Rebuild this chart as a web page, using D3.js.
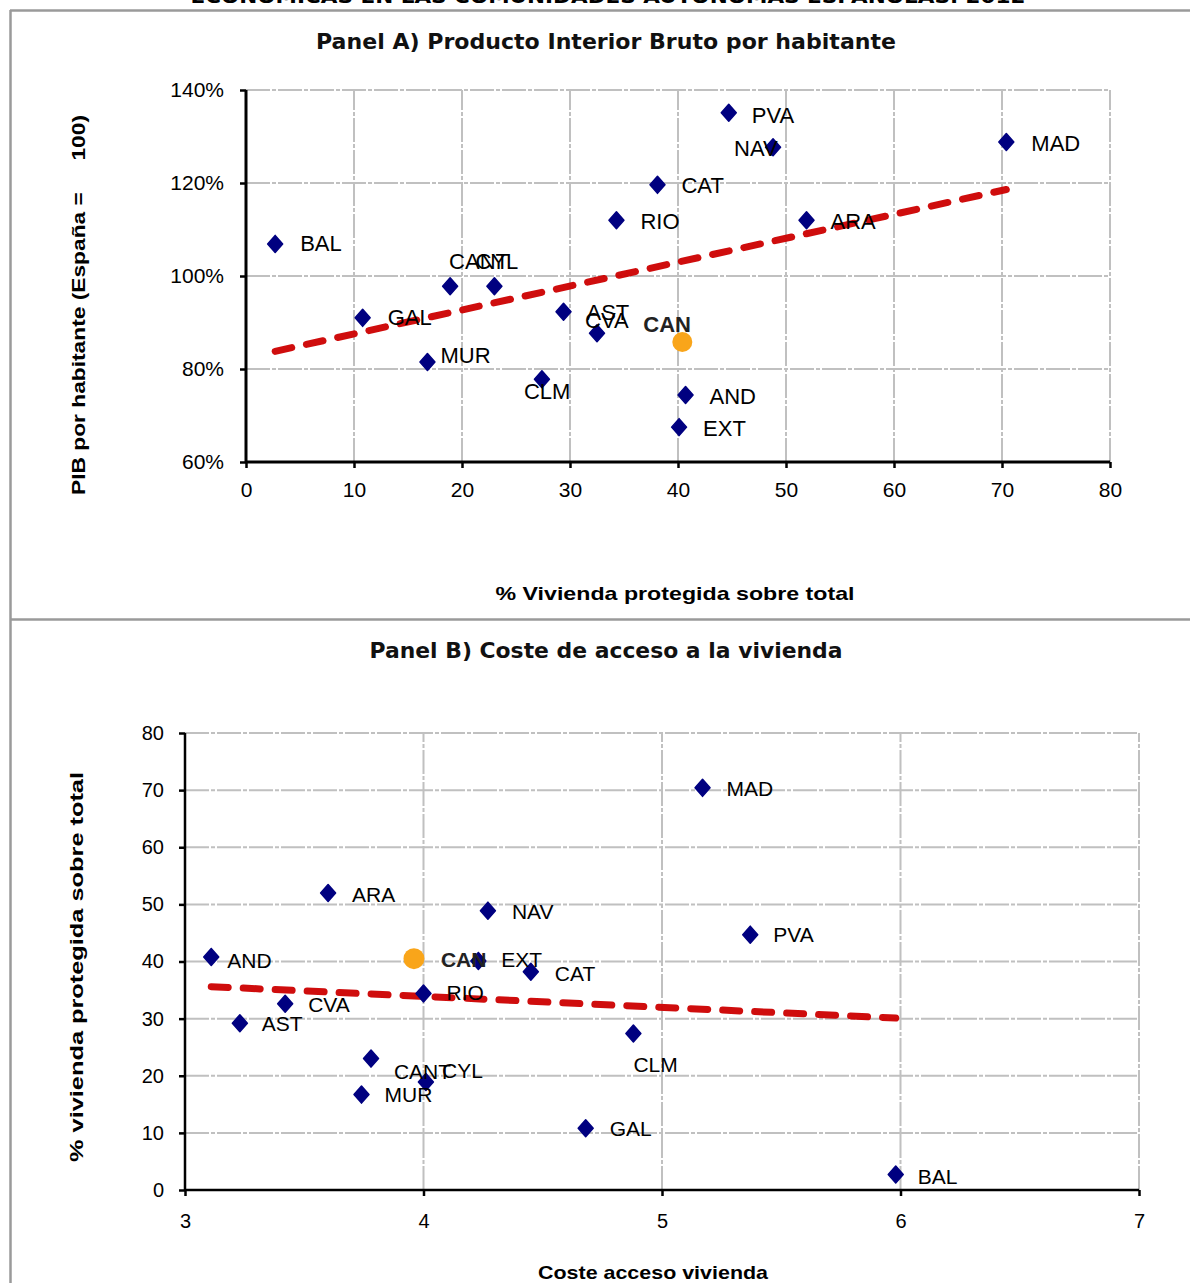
<!DOCTYPE html>
<html>
<head>
<meta charset="utf-8">
<script src="https://cdnjs.cloudflare.com/ajax/libs/d3/7.8.5/d3.min.js"></script>
<style>
  html, body { margin: 0; padding: 0; background: #fff; }
  svg { display: block; }
</style>
</head>
<body>
<svg id="chart" width="1190" height="1283"></svg>
<script>
// ---------------- DATA ----------------
const regions = ["PVA","NAV","MAD","CAT","RIO","ARA","BAL","CANT","CYL","GAL","AST","CVA","CAN","MUR","CLM","AND","EXT"];
// Panel A: % vivienda protegida (x) vs PIB por habitante, España = 100 (y)
const viviendaA = [44.7, 48.8, 70.4, 38.1, 34.3, 51.9, 2.7, 18.9, 23.0, 10.8, 29.4, 32.5, 40.4, 16.8, 27.4, 40.7, 40.1];
const pibA      = [135.1,127.7,128.8,119.6,112.0,112.0,106.9, 97.8, 97.8, 91.0, 92.3, 87.7, 85.8, 81.5, 77.8, 74.4, 67.5];
// Panel B: coste acceso vivienda (x) vs % vivienda protegida (y)
const costeB    = [5.37, 4.27, 5.17, 4.45, 4.00, 3.60, 5.98, 4.01, 3.78, 4.68, 3.23, 3.42, 3.96, 3.74, 4.88, 3.11, 4.23];
const viviendaB = [44.7, 48.9, 70.4, 38.2, 34.4, 52.0, 2.7, 18.9, 23.0, 10.8, 29.2, 32.6, 40.5, 16.7, 27.4, 40.8, 40.1];
const highlight = "CAN";
// Trend lines (end points)
const trendAx = [2.7, 70.4];
const trendAy = [83.8, 118.6];
const trendBx = [3.11, 5.98];
const trendBy = [35.6, 30.1];
// Ticks
const ticksAx = [0,10,20,30,40,50,60,70,80];
const ticksAy = [60,80,100,120,140];
const ticksBx = [3,4,5,6,7];
const ticksBy = [0,10,20,30,40,50,60,70,80];
// Texts
const topTitle = "ECONÓMICAS EN LAS COMUNIDADES AUTÓNOMAS ESPAÑOLAS. 2012";
const titleA = "Panel A) Producto Interior Bruto por habitante";
const titleB = "Panel B) Coste de acceso a la vivienda";
const xTitleA = "% Vivienda protegida sobre total";
const yTitleA = "PIB por habitante (España =     100)";
const xTitleB = "Coste acceso vivienda";
const yTitleB = "% vivienda protegida sobre total";

// ---------------- LAYOUT (label offsets, px) ----------------
const labelOffA = {PVA:[23,3],NAV:[-39,1],MAD:[25,1],CAT:[24,1],RIO:[24,1],ARA:[24,1],BAL:[25,0],
  CANT:[-1,-25],CYL:[-19,-25],GAL:[25,0],AST:[23,1],CVA:[-12,-13],CAN:[-39,-18],MUR:[13,-7],
  CLM:[-18,12],AND:[24,1],EXT:[24,1]};
const labelOffB = {PVA:[23,0],NAV:[24,1],MAD:[24,1],CAT:[24,2],RIO:[23,-1],ARA:[24,2],BAL:[22,2],
  CANT:[-32,-11],CYL:[71,12],GAL:[24,0],AST:[22,0],CVA:[23,1],CAN:[27,1],MUR:[23,0],
  CLM:[0,31],AND:[16,4],EXT:[23,-1]};

const svg = d3.select("#chart");
const NAVY = "#000080", ORANGE = "#f9a51a", RED = "#cc0000", GRID = "#c0c0c0";
const labelFont = "'Liberation Sans', Arial, sans-serif";
const titleFont = "'DejaVu Sans', Verdana, sans-serif";

// Frame
svg.append("line").attr("x1",10).attr("x2",1190).attr("y1",10.5).attr("y2",10.5).attr("stroke","#9a9a9a").attr("stroke-width",2.5);
svg.append("line").attr("x1",10.5).attr("x2",10.5).attr("y1",10).attr("y2",1283).attr("stroke","#9a9a9a").attr("stroke-width",2.5);
svg.append("line").attr("x1",10).attr("x2",1190).attr("y1",619.5).attr("y2",619.5).attr("stroke","#9a9a9a").attr("stroke-width",2.5);

// Top cut title
svg.append("text").attr("x",608).attr("y",3).attr("text-anchor","middle")
  .attr("font-family",titleFont).attr("font-weight","bold").attr("font-size",20)
  .attr("textLength",835).attr("lengthAdjust","spacingAndGlyphs").text(topTitle);

function diamond(g, x, y, hw, hh) {
  g.append("path").attr("d", `M${x},${y-hh}L${x+hw},${y}L${x},${y+hh}L${x-hw},${y}Z`)
    .attr("fill", NAVY).attr("stroke", NAVY).attr("stroke-width", 1.5).attr("stroke-linejoin","round");
}

function panel(cfg) {
  const g = svg.append("g");
  const x = d3.scaleLinear().domain(cfg.xDomain).range(cfg.xRange);
  const y = d3.scaleLinear().domain(cfg.yDomain).range(cfg.yRange);

  // title
  g.append("text").attr("x", cfg.titleX).attr("y", cfg.titleY).attr("text-anchor","middle")
    .attr("dominant-baseline","central")
    .attr("font-family",titleFont).attr("font-weight","bold").attr("font-size",22)
    .attr("textLength",cfg.titleLen).attr("lengthAdjust","spacingAndGlyphs").attr("fill","#111")
    .text(cfg.title);

  // grid
  const grid = g.append("g").attr("stroke", GRID).attr("stroke-width", 2).attr("stroke-dasharray","24,2,4,2");
  cfg.xTicks.forEach(t => grid.append("line").attr("x1",x(t)).attr("x2",x(t)).attr("y1",cfg.yRange[0]).attr("y2",cfg.yRange[1]));
  cfg.yTicks.forEach(t => grid.append("line").attr("x1",cfg.xRange[0]).attr("x2",cfg.xRange[1]).attr("y1",y(t)).attr("y2",y(t)));

  // axes
  const xAxis = g.append("g").attr("transform",`translate(0,${cfg.yRange[0]})`)
    .call(d3.axisBottom(x).tickValues(cfg.xTicks).tickSize(6).tickPadding(cfg.xPad).tickFormat(cfg.xFmt));
  const yAxis = g.append("g").attr("transform",`translate(${cfg.xRange[0]},0)`)
    .call(d3.axisLeft(y).tickValues(cfg.yTicks).tickSize(6).tickPadding(cfg.yPad).tickFormat(cfg.yFmt));
  [xAxis, yAxis].forEach(a => {
    a.select(".domain").attr("stroke","#000").attr("stroke-width",cfg.axisW);
    a.selectAll(".tick line").attr("stroke","#000").attr("stroke-width",2.5);
    a.selectAll(".tick text").attr("font-family",labelFont).attr("font-size",cfg.tickFs).attr("fill","#000");
  });
  xAxis.select(".domain").attr("d", `M${cfg.xRange[0]},0H${cfg.xRange[1]}`);
  yAxis.select(".domain").attr("d", `M0,${cfg.yRange[0]}V${cfg.yRange[1]}`);

  // axis titles
  g.append("text").attr("x",cfg.xtX).attr("y",cfg.xtY).attr("text-anchor","middle").attr("dominant-baseline","central")
    .attr("font-family",labelFont).attr("font-weight","bold").attr("font-size",cfg.axTitleFs)
    .attr("textLength",cfg.xtLen).attr("lengthAdjust","spacingAndGlyphs").text(cfg.xTitle);
  g.append("text").attr("transform",`translate(${cfg.ytX},${cfg.ytY}) rotate(-90)`).attr("text-anchor","middle")
    .attr("dominant-baseline","central").style("white-space","pre").attr("xml:space","preserve")
    .attr("font-family",labelFont).attr("font-weight","bold").attr("font-size",cfg.axTitleFs)
    .attr("textLength",cfg.ytLen).attr("lengthAdjust","spacingAndGlyphs").text(cfg.yTitle);

  // trend line
  const line = d3.line().x(d => x(d[0])).y(d => y(d[1]));
  g.append("path").datum(cfg.trendX.map((v,i) => [v, cfg.trendY[i]])).attr("d", line)
    .attr("fill","none").attr("stroke",RED).attr("stroke-width",7)
    .attr("stroke-dasharray","17,15").attr("stroke-linecap","round").attr("opacity",0.95);

  // points
  const pts = g.append("g");
  cfg.names.forEach((n,i) => {
    const px = x(cfg.xs[i]), py = y(cfg.ys[i]);
    if (n === highlight) {
      pts.append("circle").attr("cx",px).attr("cy",py).attr("r",cfg.circR).attr("fill",ORANGE);
    } else {
      diamond(pts, px, py, 7.5, 8.5);
    }
  });
  // labels
  const lab = g.append("g");
  cfg.names.forEach((n,i) => {
    const px = x(cfg.xs[i]), py = y(cfg.ys[i]);
    const off = cfg.offs[n];
    lab.append("text").attr("x", px + off[0]).attr("y", py + off[1])
      .attr("dominant-baseline","central")
      .attr("font-family", labelFont).attr("font-size", cfg.labelFs)
      .attr("font-weight", n === highlight ? "bold" : "normal")
      .attr("fill", n === highlight ? "#222" : "#000")
      .text(n);
  });
}

panel({
  title: titleA, titleX: 606, titleY: 41, titleLen: 580,
  xDomain: [0,80], xRange: [246,1110], yDomain: [60,140], yRange: [462,90],
  xTicks: ticksAx, yTicks: ticksAy, xFmt: d => d, yFmt: d => d + "%",
  xPad: 14, yPad: 16, axisW: 3, tickFs: 21,
  xTitle: xTitleA, xtX: 675, xtY: 593, xtLen: 359,
  yTitle: yTitleA, ytX: 78, ytY: 305, ytLen: 380, axTitleFs: 19,
  trendX: trendAx, trendY: trendAy,
  names: regions, xs: viviendaA, ys: pibA, offs: labelOffA, labelFs: 22, circR: 10
});

panel({
  title: titleB, titleX: 606, titleY: 650, titleLen: 473,
  xDomain: [3,7], xRange: [185,1139], yDomain: [0,80], yRange: [1190,733],
  xTicks: ticksBx, yTicks: ticksBy, xFmt: d => d, yFmt: d => d,
  xPad: 18, yPad: 15, axisW: 2.5, tickFs: 20,
  xTitle: xTitleB, xtX: 653, xtY: 1272, xtLen: 230,
  yTitle: yTitleB, ytX: 76, ytY: 967, ytLen: 390, axTitleFs: 19,
  trendX: trendBx, trendY: trendBy,
  names: regions, xs: costeB, ys: viviendaB, offs: labelOffB, labelFs: 21, circR: 10.5
});
</script>
</body>
</html>
